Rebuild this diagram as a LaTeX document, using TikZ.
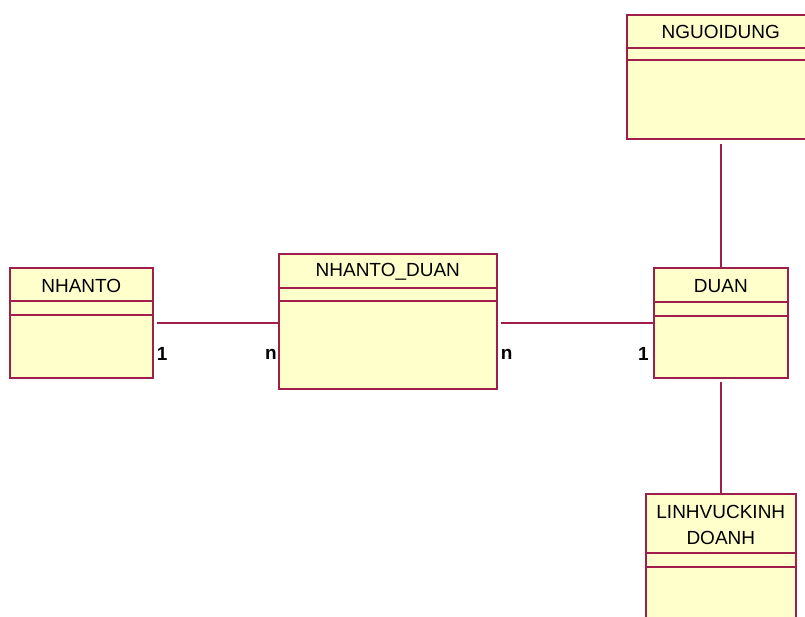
\documentclass[tikz,border=0pt]{standalone}
\usepackage{fontspec}
\setmainfont{Liberation Sans}
\usepackage{tikz}
\usetikzlibrary{positioning, calc}
\definecolor{umlborder}{HTML}{A01E4C}
\definecolor{umlfill}{HTML}{FFFFCC}

\begin{document}
\begin{tikzpicture}[x=1pt, y=-1pt, font=\fontsize{19}{22}\selectfont,
  entity/.style={draw=umlborder, fill=umlfill, line width=1.6pt, anchor=north west, inner sep=0pt},
  divider/.style={draw=umlborder, line width=1.6pt},
  link/.style={draw=umlborder, line width=1.6pt},
  mult/.style={font=\fontsize{19}{22}\selectfont\bfseries, inner sep=0pt}]
  \clip (0,0) rectangle (805,617);
  \fill[white] (0,0) rectangle (805,617);

  % class boxes
  \node[entity, minimum width=143pt, minimum height=110pt] (nhanto) at (9,267) {};
  \node[entity, minimum width=218pt, minimum height=135pt] (nhantoduan) at (278,253) {};
  \node[entity, minimum width=134pt, minimum height=110pt] (duan) at (653,267) {};
  \node[entity, minimum width=200pt, minimum height=124pt] (nguoidung) at (626,14) {};
  \node[entity, minimum width=150pt, minimum height=140pt] (linhvuc) at (645,493) {};

  % header and attribute compartments
  \draw[divider] ($(nhanto.north west)+(0,34)$) -- ($(nhanto.north east)+(0,34)$);
  \draw[divider] ($(nhanto.north west)+(0,48)$) -- ($(nhanto.north east)+(0,48)$);
  \draw[divider] ($(nhantoduan.north west)+(0,35)$) -- ($(nhantoduan.north east)+(0,35)$);
  \draw[divider] ($(nhantoduan.north west)+(0,48)$) -- ($(nhantoduan.north east)+(0,48)$);
  \draw[divider] ($(duan.north west)+(0,35)$) -- ($(duan.north east)+(0,35)$);
  \draw[divider] ($(duan.north west)+(0,49)$) -- ($(duan.north east)+(0,49)$);
  \draw[divider] ($(nguoidung.north west)+(0,34)$) -- ($(nguoidung.north east)+(0,34)$);
  \draw[divider] ($(nguoidung.north west)+(0,46)$) -- ($(nguoidung.north east)+(0,46)$);
  \draw[divider] ($(linhvuc.north west)+(0,60)$) -- ($(linhvuc.north east)+(0,60)$);
  \draw[divider] ($(linhvuc.north west)+(0,74)$) -- ($(linhvuc.north east)+(0,74)$);

  % class names
  \node (tnhanto) at ($(nhanto.north)+(0,19)$) {NHANTO};
  \node (tnhantoduan) at ($(nhantoduan.north)+(0,19)$) {NHANTO\_DUAN};
  \node (tduan) at ($(duan.north)+(0,19)$) {DUAN};
  \node (tnguoidung) at ($(nguoidung.north)+(-6,18)$) {NGUOIDUNG};
  \node[align=center, font=\fontsize{19}{26}\selectfont] (tlinhvuc) at ($(linhvuc.north)+(0,32)$) {LINHVUCKINH\\DOANH};

  % associations
  \draw[link, shorten <=3pt] (nhanto.east) -- (nhantoduan.west |- nhanto.east);
  \draw[link, shorten <=3pt] (nhantoduan.east |- duan.west) -- (duan.west);
  \draw[link, shorten <=4pt] (nguoidung.south -| duan.north) -- (duan.north);
  \draw[link, shorten <=3pt] (duan.south) -- (linhvuc.north);

  % multiplicities
  \node[mult, anchor=base west] (m1) at ($(nhanto.east)+(3,38)$) {1};
  \node[mult, anchor=base east] (m2) at ($(nhantoduan.west)+(-1,38)$) {n};
  \node[mult, anchor=base west] (m3) at ($(nhantoduan.east)+(3,38)$) {n};
  \node[mult, anchor=base east] (m4) at ($(duan.west)+(-4,38)$) {1};
\end{tikzpicture}
\end{document}
